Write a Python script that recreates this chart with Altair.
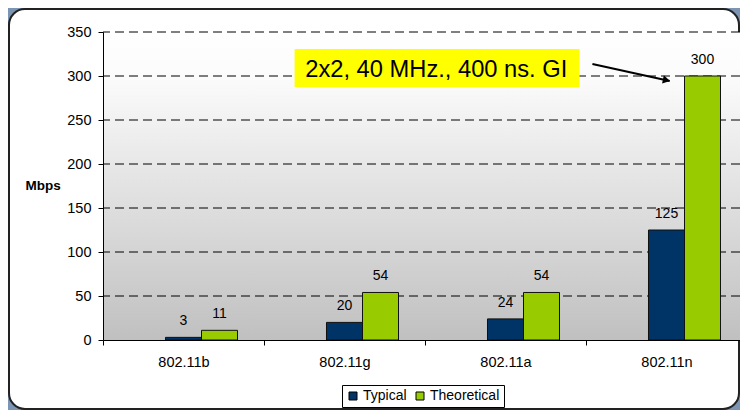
import altair as alt
import pandas as pd

categories = ["802.11b", "802.11g", "802.11a", "802.11n"]
typical = [3, 20, 24, 125]
theoretical = [11, 54, 54, 300]
series = ["Typical", "Theoretical"]
series_colors = ["#003366", "#99cc00"]
offset_slots = ["(empty)", "Typical", "Theoretical"]
y_ticks = [0, 50, 100, 150, 200, 250, 300, 350]
grid_values = [50, 100, 150, 200, 250, 300, 350]

annotation_text = "2x2, 40 MHz., 400 ns. GI"
# annotation placement in data units (x: category-index units 0..4, y: Mbps)
box_x = [1.19, 2.96]
box_y = [287.5, 330.7]
text_xy = [2.07, 299.0]
arrow_from = [3.04, 313.6]
arrow_to = [3.52, 294.3]
head_xy = [3.50, 295.3]

W, H = 637, 308
XRANGE = [0, 644]
FONT = "Liberation Sans"

bars_df = pd.DataFrame({
    "cat": categories * 2,
    "series": ["Typical"] * len(categories) + ["Theoretical"] * len(categories),
    "v": typical + theoretical,
})
grid_df = pd.DataFrame({"v": grid_values})
one = pd.DataFrame({"k": [0]})
box_df = pd.DataFrame({"x0": [box_x[0]], "x1": [box_x[1]], "v": [box_y[0]], "v2": [box_y[1]]})
text_df = pd.DataFrame({"x0": [text_xy[0]], "v": [text_xy[1]], "t": [annotation_text]})
arrow_df = pd.DataFrame({"x0": [arrow_from[0]], "x1": [arrow_to[0]], "v": [arrow_from[1]], "v2": [arrow_to[1]]})
head_df = pd.DataFrame({"x0": [head_xy[0]], "v": [head_xy[1]]})

y_axis = alt.Axis(values=y_ticks, grid=False, title="Mbps", titleAngle=0, titleAlign="left",
                  titleBaseline="alphabetic", titleX=-78, titleY=157, titleFontWeight="bold",
                  titleFontSize=13.5, labelFontSize=14.5, tickSize=5, labelPadding=7,
                  domainColor="black", tickColor="black", labelColor="black", titleColor="black",
                  zindex=1)
y_scale = alt.Scale(domain=[0, 350], nice=False, zero=True)


def Y(field):
    return alt.Y(field, scale=y_scale, axis=y_axis)


x_band = alt.Scale(domain=categories, range=XRANGE, paddingInner=0, paddingOuter=0)
x_axis = alt.Axis(title=None, labelFontSize=14.5, labelColor="black", tickSize=5, tickColor="black",
                  domainColor="black", labelPadding=10, tickBand="extent", labelAngle=0, zindex=1)
xoff = alt.XOffset("series:N", scale=alt.Scale(domain=offset_slots, paddingInner=0, paddingOuter=0.736))

panel = alt.Chart(one).mark_rect(fill="white", stroke="#222222", strokeWidth=2, cornerRadius=16).encode(
    x=alt.value(-94), x2=alt.value(636), y=alt.value(-23), y2=alt.value(377))

bg = alt.Chart(one).mark_rect(
    color=alt.LinearGradient(gradient="linear",
                             stops=[alt.GradientStop(color="#ffffff", offset=0),
                                    alt.GradientStop(color="#fbfbfb", offset=0.15),
                                    alt.GradientStop(color="#c0c0c0", offset=1)],
                             x1=0, x2=0, y1=0, y2=1)).encode(
    x=alt.value(0), x2=alt.value(644), y=alt.value(0), y2=alt.value(H))

grid = alt.Chart(grid_df).mark_rule(color="black", strokeWidth=1, strokeDash=[9, 5]).encode(y=Y("v:Q"))

bars = alt.Chart(bars_df).mark_bar(stroke="#111111", strokeWidth=1).encode(
    x=alt.X("cat:N", sort=categories, scale=x_band, axis=x_axis),
    xOffset=xoff,
    y=Y("v:Q"),
    color=alt.Color("series:N", scale=alt.Scale(domain=series, range=series_colors),
                    legend=alt.Legend(title=None, orient="none", legendX=239, legendY=353,
                                      direction="horizontal", strokeColor="black", fillColor="white",
                                      padding=4, labelFontSize=14, labelColor="black",
                                      symbolType="square", symbolSize=64, symbolStrokeColor="black",
                                      symbolStrokeWidth=1, columnPadding=6, labelOffset=3,
                                      cornerRadius=0)),
)
labels = alt.Chart(bars_df).mark_text(dy=-12, baseline="alphabetic", fontSize=14, color="black").encode(
    x=alt.X("cat:N", sort=categories, scale=x_band, axis=x_axis),
    xOffset=xoff,
    y=Y("v:Q"),
    text="v:Q",
)
data_layer = alt.layer(bars, labels)

xq = alt.Scale(domain=[0, 4], range=XRANGE, nice=False, zero=False)
box = alt.Chart(box_df).mark_rect(color="#ffff00").encode(
    x=alt.X("x0:Q", scale=xq, axis=None), x2="x1:Q", y=Y("v:Q"), y2="v2:Q")
atext = alt.Chart(text_df).mark_text(fontSize=23.7, baseline="alphabetic", align="center", color="black").encode(
    x=alt.X("x0:Q", scale=xq, axis=None), y=Y("v:Q"), text="t:N")
arrow = alt.Chart(arrow_df).mark_rule(color="black", strokeWidth=2).encode(
    x=alt.X("x0:Q", scale=xq, axis=None), x2="x1:Q", y=Y("v:Q"), y2="v2:Q")
head = alt.Chart(head_df).mark_point(shape="triangle-right", filled=True, size=70, angle=12,
                                     color="black", opacity=1).encode(
    x=alt.X("x0:Q", scale=xq, axis=None), y=Y("v:Q"))
annot_layer = alt.layer(box, atext, arrow, head)

chart = alt.layer(panel, bg, grid, data_layer, annot_layer).resolve_scale(x="independent").properties(
    width=W, height=H,
    autosize=alt.AutoSizeParams(type="none"),
    padding={"left": 95, "top": 24, "right": 0, "bottom": 70},
).configure(background="#7b95b3", font=FONT).configure_view(stroke=None)

chart.save("out.html", embed_options={"renderer": "svg", "actions": False})
